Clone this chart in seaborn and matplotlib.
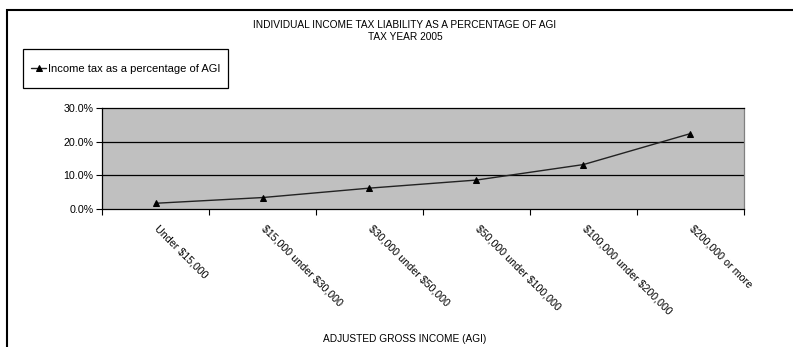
import matplotlib
matplotlib.use("Agg")
import matplotlib.pyplot as plt
import matplotlib.transforms as mtransforms
from matplotlib.patches import Rectangle
from matplotlib.ticker import FixedLocator, PercentFormatter
import seaborn as sns
import pandas as pd

# AGI brackets and tax liability as a share of AGI (percent), tax year 2005
brackets = [
    "Under $15,000",
    "$15,000 under $30,000",
    "$30,000 under $50,000",
    "$50,000 under $100,000",
    "$100,000 under $200,000",
    "$200,000 or more",
]
tax_pct = [1.7, 3.4, 6.2, 8.6, 13.2, 22.4]
y_ticks = [0, 10, 20, 30]

series_name = "Income tax as a percentage of AGI"
title_text = "INDIVIDUAL INCOME TAX LIABILITY AS A PERCENTAGE OF AGI\nTAX YEAR 2005"
x_title = "ADJUSTED GROSS INCOME (AGI)"

df = pd.DataFrame({"bracket": brackets, "pct": tax_pct})

sns.set_style("white")
plt.rcParams["font.family"] = ["Liberation Sans", "DejaVu Sans"]
plt.rcParams["text.parse_math"] = False
plt.rcParams["text.color"] = "black"
plt.rcParams["xtick.color"] = "black"
plt.rcParams["ytick.color"] = "black"

W, H = 793, 347
fig = plt.figure(figsize=(W / 100, H / 100), dpi=100)
fig.patch.set_facecolor("white")

# plot area in pixel coordinates
left, right, top, bottom = 102, 744, 108, 209
ax = fig.add_axes([left / W, 1 - bottom / H, (right - left) / W, (bottom - top) / H])
ax.set_facecolor("#C0C0C0")

sns.lineplot(data=df, x="bracket", y="pct", ax=ax, color="#222222", linewidth=1.0,
             marker="^", markersize=5, markerfacecolor="black", markeredgecolor="black",
             label=series_name, sort=False)

n = len(brackets)
ax.set_xlim(-0.5, n - 0.5)
ax.set_ylim(0, 30)

# y axis
ax.yaxis.set_major_locator(FixedLocator(y_ticks))
ax.yaxis.set_major_formatter(PercentFormatter(decimals=1))
ax.tick_params(axis="y", which="major", direction="out", length=4, width=0.8,
               color="black", labelcolor="black", labelsize=7.7, pad=2, left=True)
for yv in y_ticks[1:-1]:
    ax.axhline(yv, color="black", linewidth=0.9, zorder=1)

# x axis: labels at category centres, tick marks at category boundaries
ax.set_xticks(range(n))
ax.set_xticklabels(brackets, rotation=-45, ha="left", va="top",
                   rotation_mode="anchor", fontsize=7.7, color="black")
ax.tick_params(axis="x", which="major", length=0, pad=10)
shift = mtransforms.ScaledTranslation(4 / 100, 0, fig.dpi_scale_trans)
for lbl in ax.get_xticklabels():
    lbl.set_transform(lbl.get_transform() + shift)
ax.set_xticks([i - 0.5 for i in range(n + 1)], minor=True)
ax.tick_params(axis="x", which="minor", direction="out", length=4, width=0.8,
               color="black", bottom=True)

ax.set_xlabel("")
ax.set_ylabel("")

for side in ["left", "bottom", "top"]:
    ax.spines[side].set_visible(True)
    ax.spines[side].set_color("black")
    ax.spines[side].set_linewidth(0.9)
ax.spines["right"].set_visible(True)
ax.spines["right"].set_color("#808080")
ax.spines["right"].set_linewidth(0.9)

# legend entry, with its own box drawn around it
ax.legend(loc="center left", bbox_to_anchor=(23 / W, 1 - 69 / H),
          bbox_transform=fig.transFigure, frameon=False, fontsize=8,
          handlelength=1.4, handletextpad=0.15, borderpad=0.7,
          borderaxespad=0, labelcolor="black", markerscale=0.9)
fig.patches.append(Rectangle((23 / W, 1 - 88 / H), (228 - 23) / W, (88 - 49) / H,
                             transform=fig.transFigure, fill=False,
                             edgecolor="black", linewidth=0.9))

# titles
fig.text(405 / W, 1 - 31 / H, title_text, ha="center", va="center",
         fontsize=7.3, linespacing=1.15, color="black")
fig.text(405 / W, 1 - 339 / H, x_title, ha="center", va="center", fontsize=7.3,
         color="black")

# chart border
fig.patches.append(Rectangle((7 / W, -0.1), 1.1, 1 - 10 / H + 0.1,
                             transform=fig.transFigure, fill=False,
                             edgecolor="black", linewidth=1.5))

fig.savefig("out.png", dpi=100)
